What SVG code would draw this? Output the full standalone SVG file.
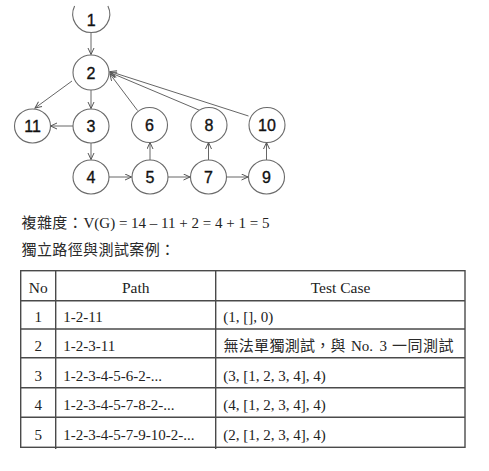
<svg xmlns="http://www.w3.org/2000/svg" width="489" height="471" viewBox="0 0 489 471">
<style>
.node ellipse, .node path{fill:#fff;stroke:#6a6a6a;stroke-width:1.1}
.lbl{font-family:"Liberation Sans",Arial,sans-serif;font-size:16px;fill:#111;stroke:#111;stroke-width:0.35;text-anchor:middle}
.edge{stroke:#666;stroke-width:1;fill:none;marker-end:url(#arr)}
.cjk{font-family:"Liberation Serif","Noto Sans CJK TC",serif;font-size:15px;fill:#2a2a2a}
.ser{font-family:"Liberation Serif",serif;font-size:15px;fill:#222}
.hd{font-family:"Liberation Serif",serif;font-size:15.5px;fill:#222;text-anchor:middle}
.mid{text-anchor:middle}
.grid{stroke:#4a4a4a;stroke-width:1.4;fill:none}
</style>
<defs>
<marker id="arr" markerUnits="userSpaceOnUse" markerWidth="9" markerHeight="9" refX="7" refY="3.5" orient="auto">
<path d="M0.5,0.5 L7,3.5 L0.5,6.5" fill="none" stroke="#555" stroke-width="1"/>
</marker>
</defs>
<rect width="489" height="471" fill="#fff"/>
<g id="connectors">
<line class="edge" x1="91" y1="32.5" x2="91" y2="54.5"/>
<line class="edge" x1="72" y1="81" x2="35" y2="108"/>
<line class="edge" x1="91" y1="90" x2="91" y2="108.5"/>
<line class="edge" x1="73" y1="126" x2="50.5" y2="126"/>
<line class="edge" x1="91" y1="143" x2="91" y2="159.5"/>
<line class="edge" x1="109" y1="177" x2="131.5" y2="177"/>
<line class="edge" x1="168" y1="177" x2="190" y2="177"/>
<line class="edge" x1="226.5" y1="177" x2="248" y2="177"/>
<line class="edge" x1="150" y1="160" x2="150" y2="142.5"/>
<line class="edge" x1="208.5" y1="160" x2="208.5" y2="142.5"/>
<line class="edge" x1="266.5" y1="160" x2="266.5" y2="142.5"/>
<line class="edge" x1="137.5" y1="110.5" x2="110" y2="74"/>
<line class="edge" x1="200" y1="110.5" x2="110" y2="72.5"/>
<line class="edge" x1="248.5" y1="116" x2="110" y2="71.5"/>
</g>
<g id="n1" class="node"><path d="M74.6,6 A18.5,18.5 0 1 0 107.9,6"/><text class="lbl" x="91.3" y="26">1</text></g>
<g id="n2" class="node"><ellipse cx="91" cy="72.5" rx="18" ry="17.5"/><text class="lbl" x="91" y="78.5">2</text></g>
<g id="n11" class="node"><ellipse cx="32.5" cy="126" rx="18" ry="17"/><text class="lbl" x="32.5" y="132">11</text></g>
<g id="n3" class="node"><ellipse cx="91" cy="126" rx="18" ry="17"/><text class="lbl" x="91" y="132">3</text></g>
<g id="n6" class="node"><ellipse cx="149.5" cy="125" rx="18" ry="17.5"/><text class="lbl" x="149.5" y="131">6</text></g>
<g id="n8" class="node"><ellipse cx="209" cy="125" rx="18" ry="17.5"/><text class="lbl" x="209" y="131">8</text></g>
<g id="n10" class="node"><ellipse cx="267" cy="125" rx="18" ry="17.5"/><text class="lbl" x="267" y="131">10</text></g>
<g id="n4" class="node"><ellipse cx="91" cy="177" rx="18" ry="17"/><text class="lbl" x="91" y="183">4</text></g>
<g id="n5" class="node"><ellipse cx="150" cy="177" rx="18" ry="17"/><text class="lbl" x="150" y="183">5</text></g>
<g id="n7" class="node"><ellipse cx="208.5" cy="177" rx="18" ry="17"/><text class="lbl" x="208.5" y="183">7</text></g>
<g id="n9" class="node"><ellipse cx="266.5" cy="177" rx="18" ry="17"/><text class="lbl" x="266.5" y="183">9</text></g>
<g id="formula">
<text class="cjk" x="21.5" y="227.5" letter-spacing="0.4">複雜度：</text>
<text class="ser" x="83.5" y="227.5" font-size="15.5">V(G) = 14 – 11 + 2 = 4 + 1 = 5</text>
<text class="cjk" x="21.5" y="255" letter-spacing="0.4">獨立路徑與測試案例：</text>
</g>
<g id="table">
<rect class="grid" x="20.7" y="270.7" width="444.3" height="176.6"/>
<line class="grid" x1="55.7" y1="270.7" x2="55.7" y2="449"/>
<line class="grid" x1="215.7" y1="270.7" x2="215.7" y2="449"/>
<line class="grid" x1="20.7" y1="300.7" x2="465" y2="300.7"/>
<line class="grid" x1="20.7" y1="329" x2="465" y2="329"/>
<line class="grid" x1="20.7" y1="357.7" x2="465" y2="357.7"/>
<line class="grid" x1="20.7" y1="387.7" x2="465" y2="387.7"/>
<line class="grid" x1="20.7" y1="417.3" x2="465" y2="417.3"/>
<text class="hd" x="38.3" y="293.3">No</text>
<text class="hd" x="135.7" y="293.3">Path</text>
<text class="hd" x="340.5" y="293.3">Test Case</text>
<text class="ser mid" x="38.3" y="321.7">1</text>
<text class="ser" x="63.3" y="321.7">1-2-11</text>
<text class="ser" x="223.3" y="321.7">(1, [], 0)</text>
<text class="ser mid" x="38.3" y="350.7">2</text>
<text class="ser" x="63.3" y="350.7">1-2-3-11</text>
<text class="cjk" x="223.5" y="350.7" letter-spacing="0.3">無法單獨測試，與</text>
<text class="ser" x="351" y="350.7">No.</text>
<text class="ser" x="379.5" y="350.7">3</text>
<text class="cjk" x="392" y="350.7" letter-spacing="0.5">一同測試</text>
<text class="ser mid" x="38.3" y="381">3</text>
<text class="ser" x="63.3" y="381">1-2-3-4-5-6-2-...</text>
<text class="ser" x="223.3" y="381">(3, [1, 2, 3, 4], 4)</text>
<text class="ser mid" x="38.3" y="410">4</text>
<text class="ser" x="63.3" y="410">1-2-3-4-5-7-8-2-...</text>
<text class="ser" x="223.3" y="410">(4, [1, 2, 3, 4], 4)</text>
<text class="ser mid" x="38.3" y="440">5</text>
<text class="ser" x="63.3" y="440">1-2-3-4-5-7-9-10-2-...</text>
<text class="ser" x="223.3" y="440">(2, [1, 2, 3, 4], 4)</text>
</g>
</svg>
